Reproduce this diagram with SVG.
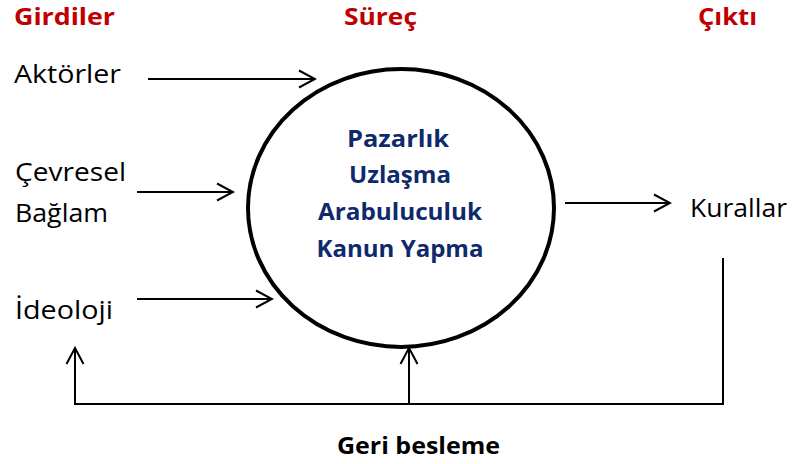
<svg xmlns="http://www.w3.org/2000/svg" width="797" height="464" viewBox="0 0 797 464">
<style>
.title{font-family:"Open Sans","Liberation Sans",sans-serif;font-weight:bold;font-size:24px;fill:#C00000}
.lbl{font-family:"Open Sans","Liberation Sans",sans-serif;font-size:25px;fill:#000}
.proc{font-family:"Open Sans","Liberation Sans",sans-serif;font-weight:bold;font-size:24px;fill:#0F2A6B;text-anchor:middle}
.fb{font-family:"Open Sans","Liberation Sans",sans-serif;font-weight:bold;font-size:24px;fill:#000}
.ln{stroke:#000;stroke-width:2;fill:none}
</style>
<defs>
<marker id="ah" viewBox="-18 -10 20 20" refX="0" refY="0" markerWidth="20" markerHeight="20" markerUnits="userSpaceOnUse" orient="auto">
<path d="M -16 -8.5 L 0 0 L -16 8.5" fill="none" stroke="#000" stroke-width="2"/>
</marker>
</defs>
<rect width="797" height="464" fill="#fff"/>
<g id="headers">
<text class="title" x="14" y="25" textLength="101" lengthAdjust="spacingAndGlyphs">Girdiler</text>
<text class="title" x="344" y="25" textLength="73" lengthAdjust="spacingAndGlyphs">Süreç</text>
<text class="title" x="698" y="25" textLength="59" lengthAdjust="spacingAndGlyphs">Çıktı</text>
</g>
<g id="aktorler"><text class="lbl" x="14" y="83" textLength="107" lengthAdjust="spacingAndGlyphs">Aktörler</text></g>
<g id="cevresel"><text class="lbl" x="15" y="181" textLength="111" lengthAdjust="spacingAndGlyphs">Çevresel</text>
<text class="lbl" x="15" y="222" textLength="93" lengthAdjust="spacingAndGlyphs">Bağlam</text></g>
<g id="ideoloji"><text class="lbl" x="15" y="319" textLength="98" lengthAdjust="spacingAndGlyphs">İdeoloji</text></g>
<g id="surec">
<ellipse cx="401" cy="208" rx="153" ry="139" fill="none" stroke="#000" stroke-width="4"/>
<text class="proc" x="398" y="147" textLength="102" lengthAdjust="spacingAndGlyphs">Pazarlık</text>
<text class="proc" x="400" y="183" textLength="102" lengthAdjust="spacingAndGlyphs">Uzlaşma</text>
<text class="proc" x="400" y="220" textLength="164" lengthAdjust="spacingAndGlyphs">Arabuluculuk</text>
<text class="proc" x="400" y="257" textLength="167" lengthAdjust="spacingAndGlyphs">Kanun Yapma</text>
</g>
<g id="kurallar"><text class="lbl" x="690" y="217" textLength="97" lengthAdjust="spacingAndGlyphs">Kurallar</text></g>
<g id="feedback"><text class="fb" x="337" y="454" textLength="163" lengthAdjust="spacingAndGlyphs">Geri besleme</text></g>
<g id="connectors">
<line class="ln" x1="148" y1="79" x2="315" y2="79" marker-end="url(#ah)"/>
<line class="ln" x1="137" y1="192" x2="233" y2="192" marker-end="url(#ah)"/>
<line class="ln" x1="137" y1="299" x2="272" y2="299" marker-end="url(#ah)"/>
<line class="ln" x1="565" y1="203" x2="670" y2="203" marker-end="url(#ah)"/>
<polyline class="ln" points="723,258 723,404 75,404 75,348" marker-end="url(#ah)"/>
<line class="ln" x1="409" y1="404" x2="409" y2="348" marker-end="url(#ah)"/>
</g>
</svg>
